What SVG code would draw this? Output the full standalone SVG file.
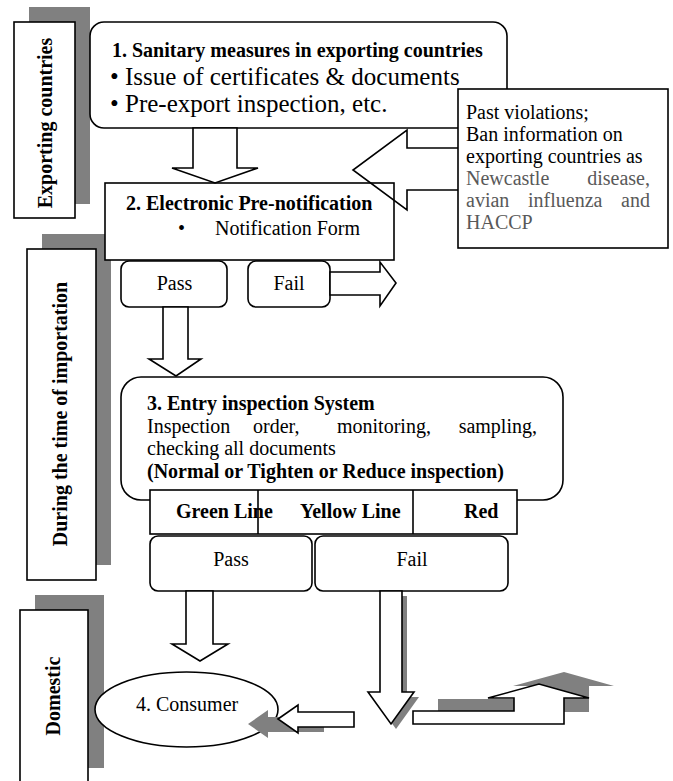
<svg xmlns="http://www.w3.org/2000/svg" width="673" height="781" viewBox="0 0 673 781">
<style>
.b{fill:#fff;stroke:#000;stroke-width:1.6}
.o{fill:none;stroke:#000;stroke-width:1.6}
.s{fill:#808080}
text{font-family:"Liberation Serif","Times New Roman",serif;font-size:20px;fill:#000}
.bd{font-weight:bold}
.g{fill:#595959}
.m{text-anchor:middle}
.e{text-anchor:end}
.big{font-size:25px}
</style>
<rect width="673" height="781" fill="#fff"/>

<g id="side-exporting">
<rect class="s" x="29" y="7" width="61" height="197"/>
<rect class="b" x="14" y="22" width="61" height="196"/>
<text class="bd m" transform="translate(52,123) rotate(-90)">Exporting countries</text>
</g>

<g id="side-importation">
<rect class="s" x="42" y="234" width="69" height="331"/>
<rect class="b" x="27" y="249" width="69" height="331"/>
<text class="bd m" transform="translate(67,414) rotate(-90)">During the time of importation</text>
</g>

<g id="side-domestic">
<rect class="s" x="35" y="595" width="69" height="173"/>
<rect class="b" x="20" y="610" width="68" height="185"/>
<text class="bd m" transform="translate(60,696) rotate(-90)">Domestic</text>
</g>

<g id="node-sanitary">
<rect class="b" x="90" y="22" width="417" height="106" rx="14"/>
<text class="bd" x="112" y="57">1. Sanitary measures in exporting countries</text>
<text class="big" x="110" y="85">• Issue of certificates &amp; documents</text>
<text class="big" x="110" y="112">• Pre-export inspection, etc.</text>
</g>

<g id="node-prenotification">
<rect class="b" x="105" y="183" width="289" height="77"/>
<text class="bd" x="126" y="210">2. Electronic Pre-notification</text>
<text x="178" y="235">•</text>
<text x="215" y="235">Notification Form</text>
</g>

<g id="node-pass1">
<rect class="b" x="121" y="261" width="106" height="46" rx="8"/>
<text class="m" x="174.5" y="290">Pass</text>
</g>
<g id="node-fail1">
<rect class="b" x="248" y="261" width="82" height="46" rx="8"/>
<text class="m" x="289" y="290">Fail</text>
</g>

<g id="node-entry">
<rect class="b" x="121" y="377" width="442" height="123" rx="20"/>
<text class="bd" x="147" y="410">3. Entry inspection System</text>
<text y="433"><tspan x="147">Inspection</tspan><tspan x="253">order,</tspan><tspan x="337">monitoring,</tspan></text>
<text class="e" x="537" y="433">sampling,</text>
<text x="147" y="455">checking all documents</text>
<text class="bd" x="147" y="478">(Normal or Tighten or Reduce inspection)</text>
</g>

<g id="node-lines">
<rect class="b" x="150" y="490" width="367" height="44"/>
<line class="o" x1="258" y1="490" x2="258" y2="534"/>
<line class="o" x1="413" y1="490" x2="413" y2="534"/>
<text class="bd" x="176" y="518">Green Line</text>
<text class="bd" x="300" y="518">Yellow Line</text>
<text class="bd" x="464" y="518">Red</text>
</g>

<g id="node-pass2">
<rect class="b" x="150" y="536" width="162" height="55" rx="8"/>
<text class="m" x="231" y="566">Pass</text>
</g>
<g id="node-fail2">
<rect class="b" x="315" y="536" width="193" height="55" rx="8"/>
<text class="m" x="412" y="566">Fail</text>
</g>

<g id="node-consumer">
<ellipse class="b" cx="186.5" cy="709.5" rx="91.5" ry="37.5"/>
<text x="136" y="711">4. Consumer</text>
</g>

<g id="connectors">
<polygon class="b" points="193,128 237,128 237,168 258,168 215,183 172,168 193,168"/>
<path class="o" d="M470,148 L407,148 L407,130 L353,170 L407,210 L407,190 L470,190"/>
<polygon class="b" points="330,272 380,272 380,262 396,283 380,306 380,295 330,295"/>
<polygon class="b" points="163,307 188,307 188,359 201,359 176,376 149,359 163,359"/>
<polygon class="b" points="186,591 213,591 213,644 228,644 200,661 172,644 186,644"/>
<polygon class="s" points="385,596 407,596 407,697 419,697 396,729 373,697 385,697"/>
<polygon class="b" points="380,591 402,591 402,692 414,692 391,724 368,692 380,692"/>
<polygon class="s" points="248,724 268,710 268,717 324,717 324,732 268,732 268,738"/>
<polygon class="b" points="278,719 298,705 298,712 354,712 354,727 298,727 298,733"/>
<polygon class="s" points="438,699 539,699 539,686 513,686 564,672 614,686 589,686 589,712 438,712"/>
<polygon class="b" points="413,711 514,711 514,698 488,698 539,684 589,698 564,698 564,724 413,724"/>
</g>

<g id="node-violations">
<rect class="b" x="458" y="89" width="210" height="159"/>
<text x="466" y="119">Past violations;</text>
<text x="466" y="141">Ban information on</text>
<text x="466" y="163">exporting countries as</text>
<text class="g" x="466" y="185">Newcastle</text>
<text class="g e" x="650" y="185">disease,</text>
<text class="g" x="466" y="207">avian</text>
<text class="g" x="528" y="207">influenza</text>
<text class="g e" x="650" y="207">and</text>
<text class="g" x="466" y="229">HACCP</text>
</g>
</svg>
